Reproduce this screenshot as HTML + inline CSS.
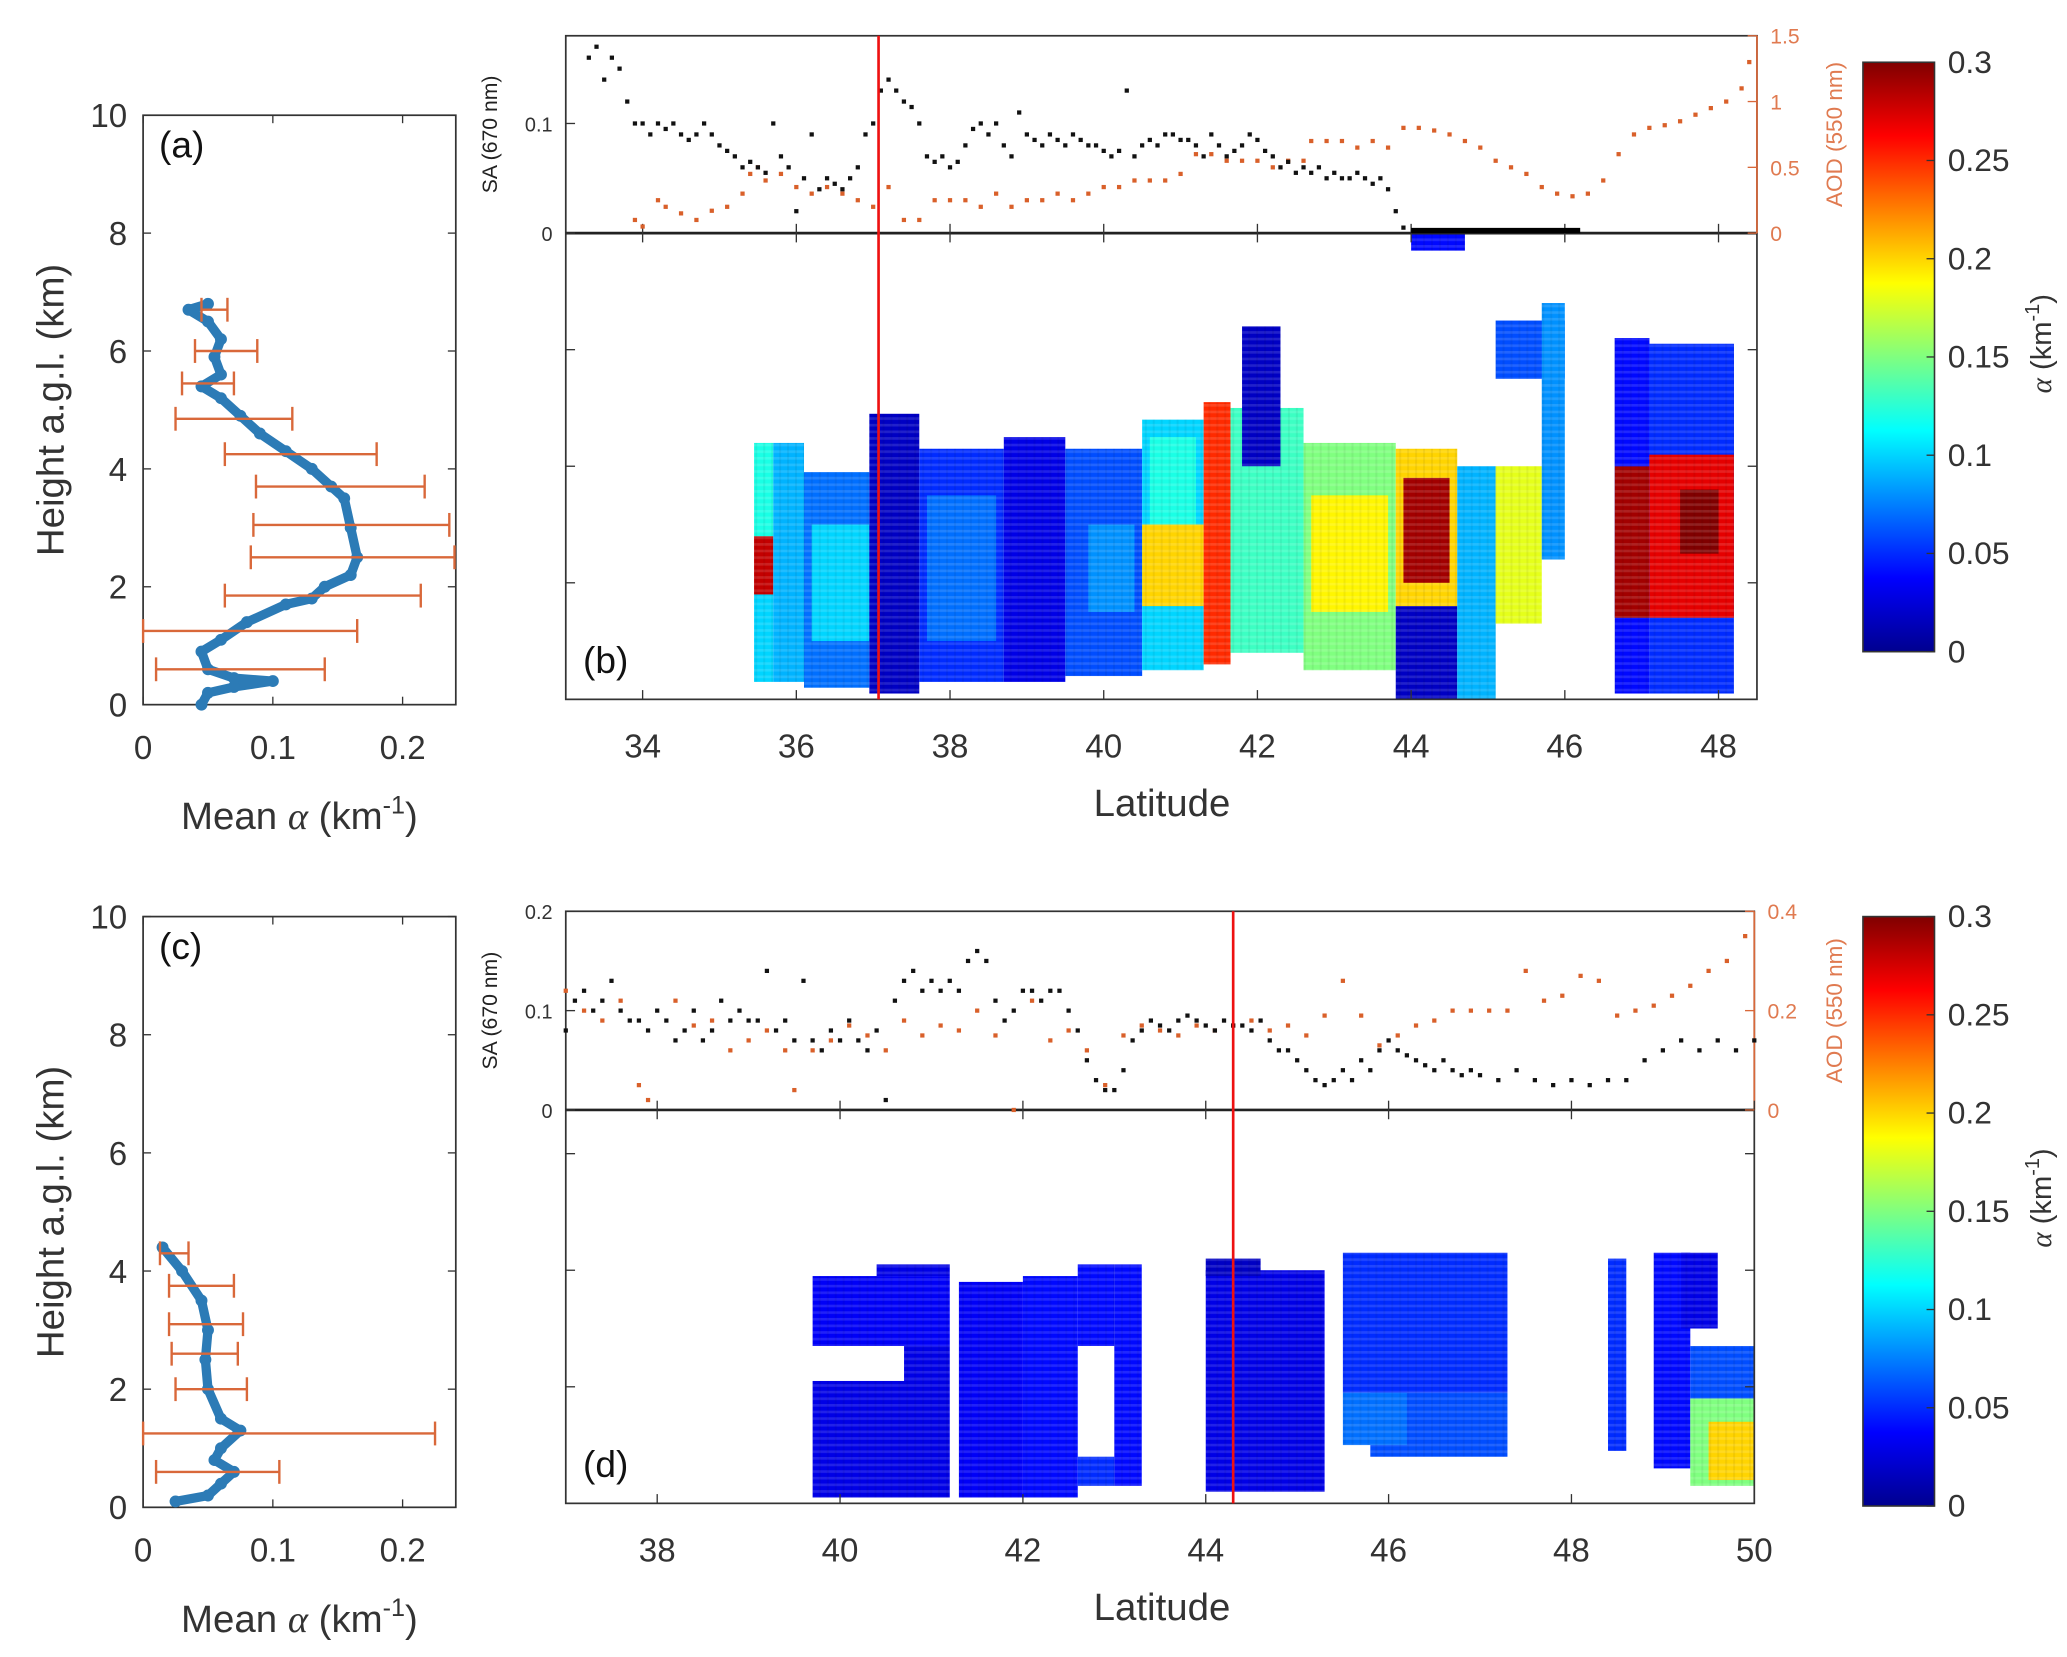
<!DOCTYPE html>
<html><head><meta charset="utf-8">
<style>
html,body{margin:0;padding:0;background:#fff;}
svg{display:block;font-family:"Liberation Sans",sans-serif;}
</style></head>
<body>
<svg id="fig" width="2067" height="1657" viewBox="0 0 1560 1251" preserveAspectRatio="none" xmlns="http://www.w3.org/2000/svg">
<defs>
<linearGradient id="jet" x1="0" y1="1" x2="0" y2="0">
<stop offset="0" stop-color="#00008f"/><stop offset="0.125" stop-color="#0000ff"/><stop offset="0.375" stop-color="#00ffff"/><stop offset="0.625" stop-color="#ffff00"/><stop offset="0.875" stop-color="#ff0000"/><stop offset="1" stop-color="#800000"/>
</linearGradient>
<pattern id="stripes" width="6" height="5" patternUnits="userSpaceOnUse"><rect width="6" height="2" fill="#fff" opacity="0.13"/><rect x="0" width="1.5" height="5" fill="#000" opacity="0.05"/></pattern>
</defs>
<g id="root"></g>
</svg>
<script>
// ---------- DATA ----------
// Panel (a) profile
const profAx = [0.045,0.05,0.07,0.1,0.07,0.05,0.045,0.06,0.08,0.11,0.13,0.14,0.16,0.165,0.16,0.155,0.145,0.13,0.11,0.09,0.075,0.06,0.045,0.06,0.055,0.06,0.05,0.035,0.05];
const profAh = [0,0.2,0.3,0.4,0.45,0.6,0.9,1.1,1.4,1.7,1.8,2.0,2.2,2.5,3.0,3.5,3.7,4.0,4.3,4.6,4.9,5.2,5.4,5.6,5.9,6.2,6.5,6.7,6.8];
const errAh = [0.6,1.25,1.85,2.5,3.05,3.7,4.25,4.85,5.45,6.0,6.7];
const errAlo = [0.01,0,0.063,0.083,0.085,0.087,0.063,0.025,0.03,0.04,0.045];
const errAhi = [0.14,0.165,0.214,0.24,0.236,0.217,0.18,0.115,0.07,0.088,0.065];
// Panel (c) profile
const profCx = [0.025,0.05,0.06,0.07,0.055,0.06,0.075,0.06,0.05,0.048,0.05,0.045,0.03,0.015];
const profCh = [0.1,0.2,0.4,0.6,0.8,1.0,1.3,1.5,2.0,2.5,3.0,3.5,4.0,4.4];
const errCh = [0.6,1.25,2.0,2.6,3.1,3.75,4.3];
const errClo = [0.01,0,0.025,0.022,0.02,0.02,0.013];
const errChi = [0.105,0.225,0.08,0.073,0.077,0.07,0.035];
// Panel (b) SA & AOD
const saBlat = [33.3,33.4,33.5,33.6,33.7,33.8,33.9,34.0,34.1,34.2,34.3,34.4,34.5,34.6,34.7,34.8,34.9,35.0,35.1,35.2,35.3,35.4,35.5,35.6,35.7,35.8,35.9,36.0,36.1,36.2,36.3,36.4,36.5,36.6,36.7,36.8,36.9,37.0,37.1,37.2,37.3,37.4,37.5,37.6,37.7,37.8,37.9,38.0,38.1,38.2,38.3,38.4,38.5,38.6,38.7,38.8,38.9,39.0,39.1,39.2,39.3,39.4,39.5,39.6,39.7,39.8,39.9,40.0,40.1,40.2,40.3,40.4,40.5,40.6,40.7,40.8,40.9,41.0,41.1,41.2,41.3,41.4,41.5,41.6,41.7,41.8,41.9,42.0,42.1,42.2,42.3,42.4,42.5,42.6,42.7,42.8,42.9,43.0,43.1,43.2,43.3,43.4,43.5,43.6,43.7,43.8,43.9];
const saBval = [.16,.17,.14,.16,.15,.12,.10,.10,.09,.10,.095,.10,.09,.085,.09,.10,.09,.08,.075,.07,.06,.065,.06,.055,.1,.07,.06,.02,.05,.09,.04,.05,.045,.04,.05,.06,.09,.1,.13,.14,.13,.12,.115,.1,.07,.065,.07,.06,.065,.08,.095,.1,.09,.1,.08,.07,.11,.09,.085,.08,.09,.085,.08,.09,.085,.08,.08,.075,.07,.075,.13,.07,.08,.085,.08,.09,.09,.085,.085,.08,.07,.09,.08,.07,.075,.08,.09,.085,.075,.07,.06,.065,.055,.06,.055,.06,.05,.055,.05,.05,.055,.05,.045,.05,.04,.02,.005];
const aodBlat = [33.9,34.0,34.2,34.3,34.5,34.7,34.9,35.1,35.3,35.4,35.5,35.6,35.8,36.0,36.2,36.4,36.6,36.8,37.0,37.2,37.4,37.6,37.8,38.0,38.2,38.4,38.6,38.8,39.0,39.2,39.4,39.6,39.8,40.0,40.2,40.4,40.6,40.8,41.0,41.2,41.4,41.6,41.8,42.0,42.2,42.4,42.6,42.7,42.9,43.1,43.3,43.5,43.7,43.9,44.1,44.3,44.5,44.7,44.9,45.1,45.3,45.5,45.7,45.9,46.1,46.3,46.5,46.7,46.9,47.1,47.3,47.5,47.7,47.9,48.1,48.3,48.4];
const aodBval = [.1,.05,.25,.2,.15,.1,.17,.2,.3,.45,.5,.4,.45,.35,.3,.35,.3,.25,.2,.35,.1,.1,.25,.25,.25,.2,.3,.2,.25,.25,.3,.25,.3,.35,.35,.4,.4,.4,.45,.6,.6,.55,.55,.55,.5,.55,.55,.7,.7,.7,.65,.7,.65,.8,.8,.78,.75,.7,.65,.55,.5,.45,.35,.3,.28,.3,.4,.6,.75,.8,.82,.85,.9,.95,1.0,1.1,1.3];
const saBzeroLat = [44.0,46.2];
// Panel (d) SA & AOD
const saDlat = [37.0,37.1,37.2,37.3,37.4,37.5,37.6,37.7,37.8,37.9,38.0,38.1,38.2,38.3,38.4,38.5,38.6,38.7,38.8,38.9,39.0,39.1,39.2,39.3,39.4,39.5,39.6,39.7,39.8,39.9,40.0,40.1,40.2,40.3,40.4,40.5,40.6,40.7,40.8,40.9,41.0,41.1,41.2,41.3,41.4,41.5,41.6,41.7,41.8,41.9,42.0,42.1,42.2,42.3,42.4,42.5,42.6,42.7,42.8,42.9,43.0,43.1,43.2,43.3,43.4,43.5,43.6,43.7,43.8,43.9,44.0,44.1,44.2,44.3,44.4,44.5,44.6,44.7,44.8,44.9,45.0,45.1,45.2,45.3,45.4,45.5,45.6,45.7,45.8,45.9,46.0,46.1,46.2,46.3,46.4,46.5,46.6,46.7,46.8,46.9,47.0,47.2,47.4,47.6,47.8,48.0,48.2,48.4,48.6,48.8,49.0,49.2,49.4,49.6,49.8,50.0];
const saDval = [.08,.11,.12,.1,.11,.13,.1,.09,.09,.08,.1,.09,.07,.08,.1,.07,.08,.11,.09,.1,.09,.09,.14,.08,.09,.07,.13,.07,.06,.08,.07,.09,.07,.06,.08,.01,.11,.13,.14,.12,.13,.12,.13,.12,.15,.16,.15,.11,.09,.1,.12,.12,.11,.12,.12,.1,.08,.05,.03,.02,.02,.04,.07,.08,.09,.085,.08,.09,.095,.09,.085,.08,.09,.085,.085,.08,.09,.07,.06,.06,.05,.04,.03,.025,.03,.04,.03,.05,.04,.06,.07,.06,.055,.05,.045,.04,.05,.04,.035,.04,.035,.03,.04,.03,.025,.03,.025,.03,.03,.05,.06,.07,.06,.07,.06,.07];
const aodDlat = [37.0,37.2,37.4,37.6,37.8,37.9,38.2,38.4,38.6,38.8,39.0,39.2,39.4,39.5,39.7,39.9,40.1,40.3,40.5,40.7,40.9,41.1,41.3,41.5,41.7,41.9,42.1,42.3,42.5,42.7,42.9,43.1,43.3,43.5,43.7,43.9,44.1,44.3,44.5,44.7,44.9,45.1,45.3,45.5,45.7,45.9,46.1,46.3,46.5,46.7,46.9,47.1,47.3,47.5,47.7,47.9,48.1,48.3,48.5,48.7,48.9,49.1,49.3,49.5,49.7,49.9];
const aodDval = [.24,.2,.18,.22,.05,.02,.22,.17,.18,.12,.14,.16,.12,.04,.12,.14,.17,.15,.12,.18,.15,.17,.16,.2,.15,0,.22,.14,.16,.12,.05,.15,.17,.16,.15,.17,.16,.17,.18,.16,.17,.15,.19,.26,.19,.13,.15,.17,.18,.2,.2,.2,.2,.28,.22,.23,.27,.26,.19,.2,.21,.23,.25,.28,.3,.35];
// Heatmap (b) blocks: lat start, lat end, height bottom, height top (km), alpha value
const hbLat0 = [35.45,35.45,35.45,35.7,36.1,36.2,36.95,37.6,37.7,38.7,39.5,39.8,40.5,40.5,40.6,41.3,41.65,41.8,42.6,42.7,43.8,43.8,43.9,44.6,44.0,45.1,45.1,45.7,46.65,46.65,46.65,47.1,47.1,47.1,47.5];
const hbLat1 = [35.7,35.7,35.7,36.1,36.95,36.95,37.6,38.7,38.6,39.5,40.5,40.4,41.3,41.3,41.2,41.65,42.6,42.3,43.8,43.7,44.6,44.6,44.5,45.1,44.7,45.7,46.0,46.0,47.1,47.1,47.1,48.2,48.2,48.2,48.0];
const hbH0 = [0.3,1.8,2.8,0.3,0.2,1.0,0.1,0.3,1.0,0.3,0.4,1.5,0.5,1.6,3.0,0.6,0.8,4.0,0.5,1.5,0,1.6,2.0,0,7.7,1.3,5.5,2.4,0.1,1.4,4.0,0.1,1.4,4.2,2.5];
const hbH1 = [1.8,2.8,4.4,4.4,3.9,3.0,4.9,4.3,3.5,4.5,4.3,3.0,4.8,3.0,4.5,5.1,5.0,6.4,4.4,3.5,1.6,4.3,3.8,4.0,8.0,4.0,6.5,6.8,6.2,4.0,6.2,6.1,4.2,6.1,3.6];
const hbVal = [0.1,0.28,0.12,0.09,0.07,0.1,0.02,0.05,0.07,0.03,0.06,0.08,0.1,0.2,0.12,0.25,0.13,0.02,0.15,0.19,0.02,0.2,0.29,0.09,0.04,0.18,0.06,0.08,0.04,0.29,0.04,0.05,0.27,0.05,0.3];
// Heatmap (d) blocks
const hdLat0 = [39.7,40.7,39.7,40.4,41.3,42.0,43.0,42.6,42.6,44.0,44.0,45.5,45.8,45.5,47.3,48.4,48.9,49.3,49.3,49.2,49.5];
const hdLat1 = [41.2,41.2,41.2,41.2,42.0,42.6,43.3,43.0,43.0,45.3,44.6,47.3,47.3,46.2,47.0,48.6,49.3,50.0,50.0,49.6,50.0];
const hdH0 = [0.1,2.1,2.7,3.9,0.1,0.1,0.3,2.7,0.3,0.2,3.9,1.9,0.8,1.0,0.8,0.9,0.6,0.3,1.8,3.0,0.4];
const hdH1 = [2.1,2.7,3.9,4.1,3.8,3.9,4.1,4.1,0.8,4.0,4.2,4.3,1.9,1.9,1.5,4.2,4.3,1.8,2.7,4.3,1.4];
const hdVal = [0.03,0.03,0.035,0.03,0.035,0.04,0.04,0.04,0.05,0.03,0.02,0.05,0.06,0.07,0.28,0.05,0.04,0.15,0.06,0.03,0.2];
// Ticks
const latTicksB = [34,36,38,40,42,44,46,48];
const latTicksD = [38,40,42,44,46,48,50];
const cbTicks = [0,0.05,0.1,0.15,0.2,0.25,0.3];
const cbLabels = ["0","0.05","0.1","0.15","0.2","0.25","0.3"];
const hTicks = [0,2,4,6,8,10];
const profXTicks = [0,0.1,0.2];
const redLineB = 37.07;
const redLineD = 44.3;

// ---------- DRAW ----------
const NS="http://www.w3.org/2000/svg";
const root=document.getElementById('root');
function mk(tag,attrs,parent){const e=document.createElementNS(NS,tag);for(const k in attrs)e.setAttribute(k,attrs[k]);(parent||root).appendChild(e);return e;}
function txt(s,x,y,size,attrs,parent){const e=mk('text',Object.assign({x:x,y:y,'font-size':size,fill:'#222'},attrs||{}),parent);e.textContent=s;return e;}
function jet(v){v=Math.max(0,Math.min(1,v));const c=t=>Math.round(255*Math.max(0,Math.min(1,1.5-Math.abs(t))));return `rgb(${c(4*v-3)},${c(4*v-2)},${c(4*v-1)})`;}
function lin(d0,d1,r0,r1){return v=>r0+(v-d0)*(r1-r0)/(d1-d0);}

function profile(top,bot,xs,hs,eh,elo,ehi,label,name){
  const g=mk('g',{});
  
  
  const L=108,R=344;
  const X=lin(0,0.241,L,R), Y=lin(0,10,bot,top);
  mk('rect',{x:L,y:top,width:R-L,height:bot-top,fill:'none',stroke:'#333','stroke-width':1.3},g);
  hTicks.forEach(h=>{
    const t=mk('line',{x1:L,x2:L+6,y1:Y(h),y2:Y(h),stroke:'#333'},g);
    
    mk('line',{x1:R,x2:R-6,y1:Y(h),y2:Y(h),stroke:'#333'},g);
    const l=txt(String(h),96,Y(h)+9,25,{'text-anchor':'end',fill:'#333'},g);
    
  });
  profXTicks.forEach(v=>{
    mk('line',{x1:X(v),x2:X(v),y1:bot,y2:bot-6,stroke:'#333'},g);
    mk('line',{x1:X(v),x2:X(v),y1:top,y2:top+6,stroke:'#333'},g);
    const l=txt(String(v),X(v),bot+41,25,{'text-anchor':'middle',fill:'#333'},g);
    
  });
  const yt=txt('Height a.g.l. (km)',0,0,29,{'text-anchor':'middle',transform:`translate(48,${(top+bot)/2}) rotate(-90)`,fill:'#333'},g);
  
  const xt=mk('text',{x:226,y:bot+94,'font-size':29,'text-anchor':'middle',fill:'#333'},g);
  xt.innerHTML='Mean <tspan font-family="Liberation Serif" font-style="italic">α</tspan> (km<tspan dy="-12" font-size="19">-1</tspan><tspan dy="12">)</tspan>';
  
  const pl=txt(label,120,top+32,28,{fill:'#111'},g);
  
  // profile line
  const pts=xs.map((x,i)=>`${X(x)},${Y(hs[i])}`).join(' ');
  const pline=mk('polyline',{points:pts,fill:'none',stroke:'#2c7bb6','stroke-width':7,'stroke-linejoin':'round','stroke-linecap':'round'},g);
  
  xs.forEach((x,i)=>{const c=mk('circle',{cx:X(x),cy:Y(hs[i]),r:4.5,fill:'#2c7bb6'},g);});
  eh.forEach((h,i)=>{
    const e=mk('g',{stroke:'#d9683a','stroke-width':1.8},g);
    
    const x0=Math.max(L,X(elo[i])), x1=X(ehi[i]), y=Y(h);
    mk('line',{x1:x0,x2:x1,y1:y,y2:y},e);
    mk('line',{x1:x0,x2:x0,y1:y-9,y2:y+9},e);
    mk('line',{x1:x1,x2:x1,y1:y-9,y2:y+9},e);
  });
}
profile(87,532,profAx,profAh,errAh,errAlo,errAhi,'(a)','profile-panel-a');
profile(692,1138,profCx,profCh,errCh,errClo,errChi,'(c)','profile-panel-c');

function curtain(cfg){
  const {L,R,saTop,mid,bot,lat0,lat1,saMax,aodMax,saTicks,aodTicks,aodLabels,saLabels,hMax,latTicks,redLat,label,name,cbTop,cbBot}=cfg;
  const g=mk('g',{});
  
  
  const X=lin(lat0,lat1,L,R);
  const Ys=lin(0,saMax,mid,saTop), Ya=lin(0,aodMax,mid,saTop), Yh=lin(0,hMax,bot,mid);
  // heatmap blocks
  const hm=mk('g',{},g);
  
  cfg.b0.forEach((a,i)=>{
    const x0=X(a),x1=X(cfg.b1[i]),y0=Yh(cfg.bh1[i]),y1=Yh(cfg.bh0[i]);
    const r=mk('rect',{x:x0,y:y0,width:x1-x0,height:y1-y0,fill:jet(cfg.bv[i]/0.3)},hm);
    
    mk('rect',{x:x0,y:y0,width:x1-x0,height:y1-y0,fill:'url(#stripes)'},hm);
  });
  // axes boxes
  mk('rect',{x:L,y:saTop,width:R-L,height:bot-saTop,fill:'none',stroke:'#333','stroke-width':1.3},g);
  mk('line',{x1:L,x2:R,y1:mid,y2:mid,stroke:'#222','stroke-width':2},g);
  mk('line',{x1:R,x2:R,y1:saTop,y2:mid,stroke:'#d9683a','stroke-width':1.3},g);
  latTicks.forEach(v=>{
    [[bot,bot-7],[mid,mid-7],[mid,mid+7]].forEach(p=>mk('line',{x1:X(v),x2:X(v),y1:p[0],y2:p[1],stroke:'#333'},g));
    const l=txt(String(v),X(v),bot+44,25,{'text-anchor':'middle',fill:'#333'},g);
    
  });
  for(let h=2;h<hMax;h+=2){mk('line',{x1:R,x2:R-7,y1:Yh(h),y2:Yh(h),stroke:'#333'},g);mk('line',{x1:L,x2:L+7,y1:Yh(h),y2:Yh(h),stroke:'#333'},g);}
  saTicks.forEach((v,i)=>{mk('line',{x1:L,x2:L+7,y1:Ys(v),y2:Ys(v),stroke:'#333'},g);
    const l=txt(saLabels[i],L-10,Ys(v)+6,15,{'text-anchor':'end',fill:'#333'},g);});
  aodTicks.forEach((v,i)=>{mk('line',{x1:R,x2:R-7,y1:Ya(v),y2:Ya(v),stroke:'#d9683a'},g);
    const l=txt(aodLabels[i],R+10,Ya(v)+6,16,{fill:'#e07a50'},g);});
  const sl=txt('SA (670 nm)',0,0,16,{'text-anchor':'middle',transform:`translate(375,${(saTop+mid)/2}) rotate(-90)`,fill:'#222'},g);
  
  const al=txt('AOD (550 nm)',0,0,17,{'text-anchor':'middle',transform:`translate(1390,${(saTop+mid)/2}) rotate(-90)`,fill:'#e07a50'},g);
  
  // scatter
  cfg.aLat.forEach((a,i)=>{const r=mk('rect',{x:X(a)-1.6,y:Ya(cfg.aVal[i])-1.6,width:3.2,height:3.2,fill:'#d9602a'},g);});
  cfg.sLat.forEach((a,i)=>{const r=mk('rect',{x:X(a)-1.6,y:Ys(cfg.sVal[i])-1.6,width:3.2,height:3.2,fill:'#111'},g);});
  if(cfg.zero){const z=mk('line',{x1:X(cfg.zero[0]),x2:X(cfg.zero[1]),y1:mid-2,y2:mid-2,stroke:'#000','stroke-width':4},g);}
  const rl=mk('line',{x1:X(redLat),x2:X(redLat),y1:saTop,y2:bot,stroke:'#ee1111','stroke-width':2},g);
  
  const lt=txt('Latitude',877,bot+88,29,{'text-anchor':'middle',fill:'#333'},g);
  
  const pl=txt(label,440,bot-20,28,{fill:'#111'},g);
  
  // colorbar
  const cb=mk('g',{},g);
  const CY=lin(0,0.3,cbBot,cbTop);
  mk('rect',{x:1406,y:cbTop,width:54,height:cbBot-cbTop,fill:'url(#jet)',stroke:'#333','stroke-width':1.2},cb);
  cbTicks.forEach((v,i)=>{mk('line',{x1:1454,x2:1460,y1:CY(v),y2:CY(v),stroke:'#333'},cb);
    const l=txt(cbLabels[i],1470,CY(v)+8,24,{fill:'#333'},cb);});
  const ct=mk('text',{'font-size':22,'text-anchor':'middle',fill:'#333',transform:`translate(1548,${(cbTop+cbBot)/2-10}) rotate(-90)`},cb);
  ct.innerHTML='<tspan font-family="Liberation Serif" font-style="italic">α</tspan> (km<tspan dy="-9" font-size="15">-1</tspan><tspan dy="9">)</tspan>';
  
}
curtain({L:427,R:1326,saTop:27,mid:176,bot:528,lat0:33,lat1:48.5,saMax:0.18,aodMax:1.5,saTicks:[0,0.1],saLabels:['0','0.1'],aodTicks:[0,0.5,1,1.5],aodLabels:['0','0.5','1','1.5'],hMax:8,latTicks:latTicksB,redLat:redLineB,label:'(b)',name:'curtain-panel-b',cbTop:47,cbBot:492,
  b0:hbLat0,b1:hbLat1,bh0:hbH0,bh1:hbH1,bv:hbVal,sLat:saBlat,sVal:saBval,aLat:aodBlat,aVal:aodBval,zero:saBzeroLat});
curtain({L:427,R:1324,saTop:688,mid:838,bot:1135,lat0:37,lat1:50,saMax:0.2,aodMax:0.4,saTicks:[0,0.1,0.2],saLabels:['0','0.1','0.2'],aodTicks:[0,0.2,0.4],aodLabels:['0','0.2','0.4'],hMax:6.75,latTicks:latTicksD,redLat:redLineD,label:'(d)',name:'curtain-panel-d',cbTop:692,cbBot:1137,
  b0:hdLat0,b1:hdLat1,bh0:hdH0,bh1:hdH1,bv:hdVal,sLat:saDlat,sVal:saDval,aLat:aodDlat,aVal:aodDval,zero:null});
</script>
</body></html>
